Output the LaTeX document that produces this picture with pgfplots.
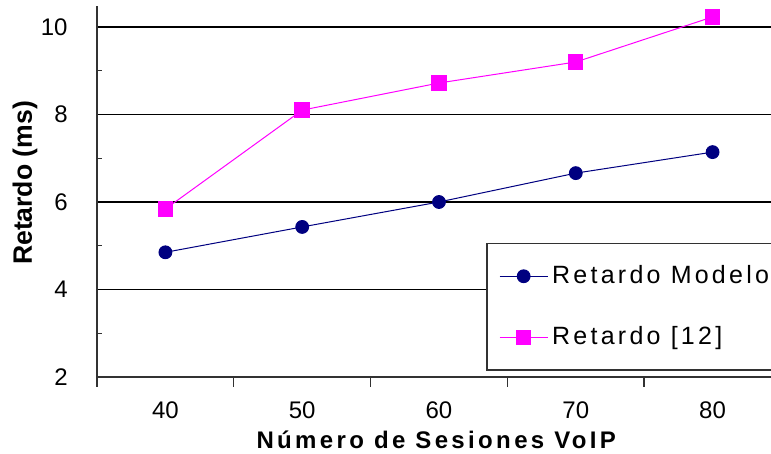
\documentclass[border=0pt]{standalone}
\usepackage{fontspec}
\setmainfont{Liberation Sans}
\newfontfamily\legendfont[LetterSpace=13]{Liberation Sans}
\newfontfamily\labelfont[LetterSpace=14]{Liberation Sans}
\usepackage{pgfplots}
\pgfplotsset{compat=1.18}
\definecolor{modelblue}{RGB}{0,0,128}
\definecolor{refmag}{RGB}{255,0,255}
\definecolor{axgray}{RGB}{50,50,50}
\begin{document}
\begin{tikzpicture}
\begin{axis}[
  at={(0,0)}, anchor=south west,
  scale only axis, width=342pt, height=185.5pt,
  xmin=-0.5, xmax=4.5, ymin=2, ymax=10.48,
  axis x line*=bottom, axis y line*=left,
  axis line style={line width=0.7pt, axgray},
  xtick={0,1,2,3,4}, xticklabels={40,50,60,70,80},
  minor xtick={-0.5,0.5,1.5,2.5,3.5,4.5},
  ytick={2,4,6,8,10},
  extra y ticks={3,5,7,9}, extra y tick labels={},
  extra y tick style={grid=none, major tick length=2.5pt, tick align=inside},
  tick align=outside, major tick length=0pt, minor tick length=5pt,
  tick style={axgray, line width=0.7pt},
  ymajorgrids, major grid style={black, line width=0.6pt},
  tick label style={font=\fontsize{12}{14}\selectfont},
  /pgf/number format/assume math mode=true,
  xticklabel style={anchor=center, yshift=-16.5pt},
  yticklabel style={anchor=east, inner sep=0pt, xshift=-14.5pt},
  xlabel={\labelfont\bfseries Número de Sesiones VoIP},
  ylabel={Retardo (ms)},
  every axis x label/.style={at={(axis description cs:0.496,0)}, anchor=center, yshift=-31.5pt, font=\fontsize{12}{14}\selectfont},
  every axis y label/.style={at={(axis description cs:0,0.523)}, rotate=90, anchor=center, yshift=36pt, font=\bfseries\fontsize{13.3}{16}\selectfont},
  legend style={at={(axis cs:2.347,5.063)}, anchor=north west, draw=axgray, line width=0.7pt, fill=white,
    font=\legendfont\fontsize{12.5}{15}\selectfont, inner xsep=6pt, inner ysep=9pt, row sep=16pt,
    /tikz/every even column/.append style={column sep=5pt}},
  legend cell align=left,
  legend image code/.code={\draw[mark repeat=2, mark phase=2, #1] plot coordinates {(0pt,0pt) (12pt,0pt) (24pt,0pt)};},
]
% modelled delay
\addplot[modelblue, line width=0.5pt, mark=*, mark size=3.2pt, mark options={fill=modelblue, draw=modelblue}]
  coordinates {(0,4.85) (1,5.43) (2,6.00) (3,6.66) (4,7.14)};
\addlegendentry{Retardo Modelo}
% delay reported in reference [12]
\addplot[refmag, line width=0.5pt, mark=square*, mark size=3.6pt, mark options={fill=refmag, draw=refmag}]
  coordinates {(0,5.84) (1,8.10) (2,8.72) (3,9.20) (4,10.23)};
\addlegendentry{Retardo [12]}
\end{axis}
\pgfresetboundingbox
\path[use as bounding box] (-48.5pt,-38.5pt) rectangle (337pt,188.5pt);
\end{tikzpicture}
\end{document}
